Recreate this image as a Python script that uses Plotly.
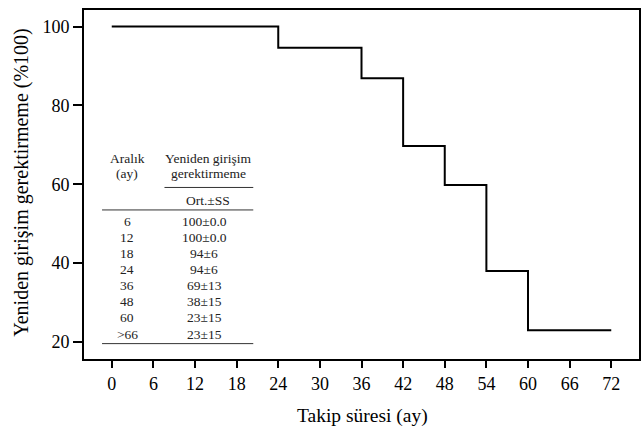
import plotly.graph_objects as go

# Step curve data (months, % free of reintervention)
step_months = [0, 24, 36, 42, 48, 54, 60, 72]
step_values = [100, 94.6, 86.9, 69.7, 59.8, 38.0, 23.0, 23.0]

# Table content
table_intervals = ["6", "12", "18", "24", "36", "48", "60", ">66"]
table_values = ["100±0.0", "100±0.0", "94±6", "94±6", "69±13", "38±15", "23±15", "23±15"]

x_ticks = list(range(0, 73, 6))
y_ticks = [20, 40, 60, 80, 100]

FONT = "Liberation Serif"

fig = go.Figure()
fig.add_trace(go.Scatter(
    x=step_months, y=step_values, mode="lines",
    line=dict(color="black", width=2, shape="hv"),
    showlegend=False, hoverinfo="skip",
))

# table layout (in data coordinates)
col1_x = 2.2
col2_x = 13.3
tbl_left, tbl_right = -1.4, 20.4
tfont = dict(family=FONT, size=13.5, color="#222")
ann = []
ann.append(dict(x=col1_x, y=66.6, text="Aralık", showarrow=False, font=tfont))
ann.append(dict(x=col1_x, y=62.8, text="(ay)", showarrow=False, font=tfont))
ann.append(dict(x=13.9, y=66.6, text="Yeniden girişim", showarrow=False, font=tfont))
ann.append(dict(x=13.9, y=62.8, text="gerektirmeme", showarrow=False, font=tfont))
ann.append(dict(x=13.9, y=55.9, text="Ort.±SS", showarrow=False, font=tfont))
row0_y = 50.6
row_step = 4.08
for i, (iv, val) in enumerate(zip(table_intervals, table_values)):
    yy = row0_y - i * row_step
    ann.append(dict(x=col1_x, y=yy, text=iv, showarrow=False, font=tfont))
    ann.append(dict(x=col2_x, y=yy, text=val, showarrow=False, font=tfont))
for a in ann:
    a.update(xref="x", yref="y", xanchor="center", yanchor="middle")

# axis titles
ann.append(dict(xref="paper", yref="paper", x=(21.5 - 84) / 555, y=(358.6 - 183) / 348.6,
                text="Yeniden girişim gerektirmeme (%100)", textangle=-90,
                showarrow=False, font=dict(family=FONT, size=20, color="black"),
                xanchor="center", yanchor="middle"))
ann.append(dict(xref="paper", yref="paper", x=(362 - 84) / 555, y=-(416 - 358.6) / 348.6,
                text="Takip süresi (ay)", showarrow=False,
                font=dict(family=FONT, size=19.5, color="black"),
                xanchor="center", yanchor="middle"))

shapes = [
    dict(type="line", xref="x", yref="y", x0=7.6, x1=tbl_right, y0=59.2, y1=59.2,
         line=dict(color="#333", width=1)),
    dict(type="line", xref="x", yref="y", x0=tbl_left, x1=tbl_right, y0=53.5, y1=53.5,
         line=dict(color="#333", width=1)),
    dict(type="line", xref="x", yref="y", x0=tbl_left, x1=tbl_right, y0=19.6, y1=19.6,
         line=dict(color="#333", width=1)),
]

fig.update_layout(
    width=642, height=428,
    margin=dict(l=84, r=3, t=10, b=69),
    paper_bgcolor="white", plot_bgcolor="white",
    font=dict(family=FONT, size=18, color="black"),
    annotations=ann, shapes=shapes,
    xaxis=dict(range=[-4, 76], tickvals=x_ticks, ticks="outside", ticklen=7, tickwidth=2,
               tickcolor="black", showline=True, linecolor="black", linewidth=2, mirror=True,
               showgrid=False, zeroline=False, tickfont=dict(size=18), automargin=False),
    yaxis=dict(range=[15.7, 104.2], tickvals=y_ticks, ticks="outside", ticklen=9, tickwidth=2,
               tickcolor="black", showline=True, linecolor="black", linewidth=2, mirror=True,
               showgrid=False, zeroline=False, tickfont=dict(size=18), automargin=False),
)

fig.write_html("out.html", config={"displayModeBar": False},
               post_script="document.body.style.margin='0';")
